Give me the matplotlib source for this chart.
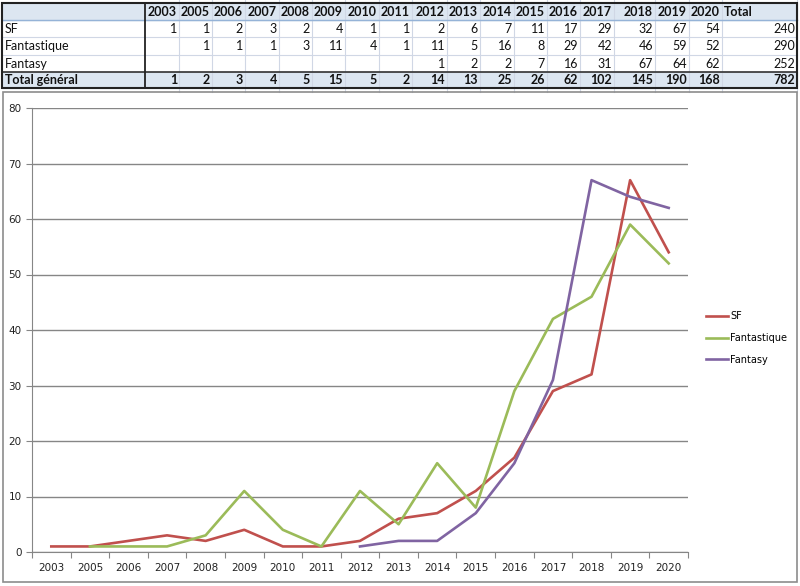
import numpy as np
import matplotlib
matplotlib.use("Agg")
import matplotlib.pyplot as plt
from matplotlib.patches import Rectangle

years = ["2003", "2005", "2006", "2007", "2008", "2009", "2010", "2011", "2012",
         "2013", "2014", "2015", "2016", "2017", "2018", "2019", "2020"]
sf = [1, 1, 2, 3, 2, 4, 1, 1, 2, 6, 7, 11, 17, 29, 32, 67, 54]
fantastique = [None, 1, 1, 1, 3, 11, 4, 1, 11, 5, 16, 8, 29, 42, 46, 59, 52]
fantasy = [None, None, None, None, None, None, None, None, 1, 2, 2, 7, 16, 31, 67, 64, 62]
series_names = ["SF", "Fantastique", "Fantasy"]
series_colors = ["#C0504D", "#9BBB59", "#8064A2"]

W, H = 800, 586
fig = plt.figure(figsize=(W / 100, H / 100), dpi=100)

# ---- table drawn in pixel coords on a full-figure axes
tab = fig.add_axes([0, 0, 1, 1])
tab.set_xlim(0, W)
tab.set_ylim(H, 0)
tab.axis("off")

col_right = [177, 210, 243, 277, 310, 343, 377, 410, 445, 478, 512, 545, 578, 612, 653, 687, 720]
total_right = 795
row_top = [3, 20, 37, 55, 72, 88]
tfont = dict(family=["Lato", "DejaVu Sans"], fontsize=9, color="#111111")

# fills
tab.add_patch(Rectangle((2, row_top[0]), 795, row_top[1] - row_top[0], color="#DCE6F1", zorder=0))
tab.add_patch(Rectangle((2, row_top[4]), 795, row_top[5] - row_top[4], color="#DCE6F1", zorder=0))
# cell grid lines
for y in row_top[1:5]:
    tab.plot([2, 797], [y, y], color="#D0D7E5", lw=0.8, zorder=1)
for x in col_right + [total_right]:
    tab.plot([x + 2, x + 2], [0, 92], color="#D0D7E5", lw=0.8, zorder=1)
tab.plot([2, 797], [row_top[1], row_top[1]], color="#95B3D7", lw=1, zorder=2)
tab.plot([2, 797], [row_top[4], row_top[4]], color="#333333", lw=1.2, zorder=2)
tab.plot([145, 145], [row_top[0], row_top[5]], color="#222222", lw=1.3, zorder=2)
tab.add_patch(Rectangle((2, row_top[0]), 795, row_top[5] - row_top[0], fill=False,
                        ec="#222222", lw=1.5, zorder=3))

def cy(i):
    return (row_top[i] + row_top[i + 1]) / 2 + 0.5

for x, y in zip(col_right, years):
    tab.text(x, cy(0), y, ha="right", va="center", fontweight="bold", **tfont)
tab.text(724, cy(0), "Total", ha="left", va="center", fontweight="bold", **tfont)

all_series = [sf, fantastique, fantasy]
for r, (name, vals) in enumerate(zip(series_names, all_series), start=1):
    tab.text(5, cy(r), name, ha="left", va="center", **tfont)
    for x, v in zip(col_right, vals):
        if v is not None:
            tab.text(x, cy(r), str(v), ha="right", va="center", **tfont)
    tab.text(total_right, cy(r), str(sum(v for v in vals if v)), ha="right", va="center", **tfont)

tab.text(5, cy(4), "Total général", ha="left", va="center", fontweight="bold", **tfont)
totals = [sum(s[i] or 0 for s in all_series) for i in range(len(years))]
for x, v in zip(col_right, totals):
    tab.text(x, cy(4), str(v), ha="right", va="center", fontweight="bold", **tfont)
tab.text(total_right, cy(4), str(sum(totals)), ha="right", va="center", fontweight="bold", **tfont)

# chart outer frame
tab.add_patch(Rectangle((3, 92), 794, 490, fill=False, ec="#8C8C8C", lw=1.2, zorder=3))

# ---- line chart
ax = fig.add_axes([32 / W, 1 - 552 / H, (688 - 32) / W, (552 - 108) / H])
x = np.arange(len(years))
for name, vals, c in zip(series_names, all_series, series_colors):
    y = np.array([np.nan if v is None else v for v in vals], dtype=float)
    ax.plot(x, y, color=c, lw=1.9, label=name)

ax.set_xlim(-0.5, len(years) - 0.5)
ax.set_ylim(0, 80)
ax.set_yticks(range(0, 81, 10))
ax.yaxis.grid(True, color="#868686", lw=1)
ax.set_axisbelow(True)
ax.set_xticks(np.arange(-0.5, len(years), 1))
ax.set_xticklabels([])
ax.set_xticks(x, minor=True)
ax.set_xticklabels(years, minor=True)
ax.tick_params(axis="x", which="minor", length=0, pad=8, labelsize=7.5, colors="#222222")
ax.tick_params(axis="x", which="major", length=4, color="#868686")
ax.tick_params(axis="y", length=4, color="#868686", labelsize=7.5, labelcolor="#222222")
for s in ["top", "right"]:
    ax.spines[s].set_visible(False)
for s in ["left", "bottom"]:
    ax.spines[s].set_color("#868686")

ax.legend(loc="center left", bbox_to_anchor=(1.027, 0.482), frameon=False,
          fontsize=7, handlelength=2.3, labelspacing=1.2, handletextpad=0.2,
          borderpad=0, borderaxespad=0)

fig.savefig("out.png", dpi=100)
